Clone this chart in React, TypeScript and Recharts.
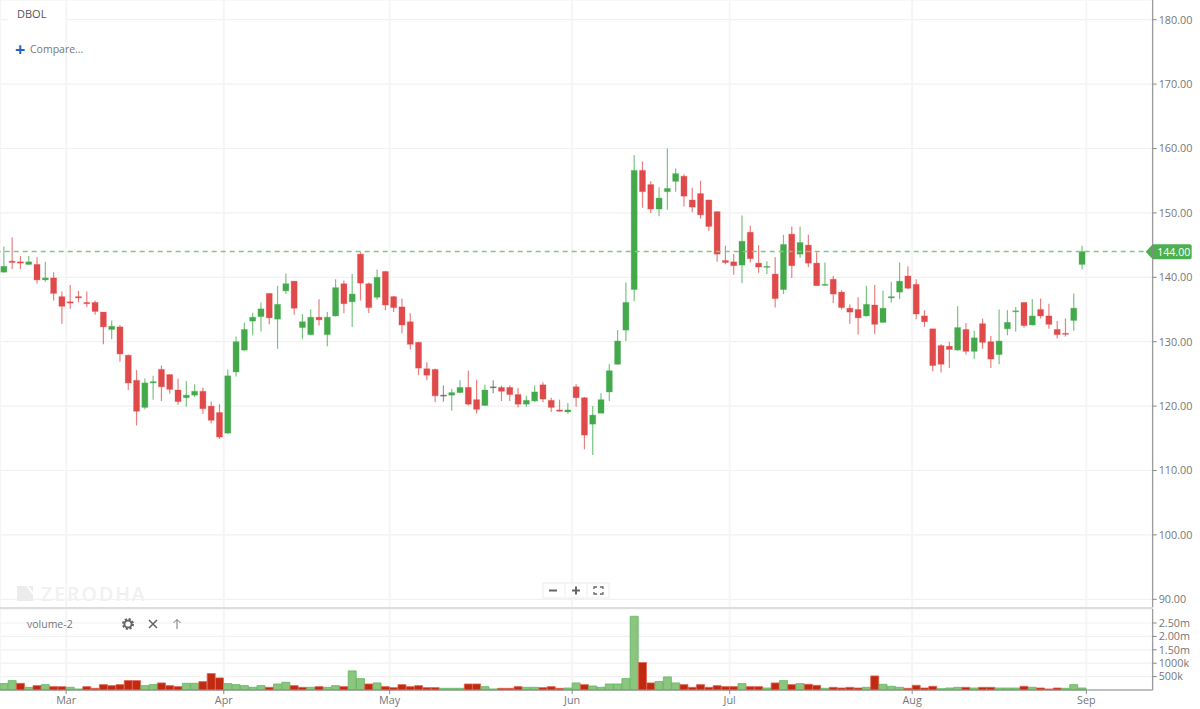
import React from "react";
import { ComposedChart, Bar, Cell, XAxis, YAxis, CartesianGrid, ReferenceLine } from "recharts";

const opens = [
  140.8, 142.5, 142.4, 142.0, 142.0, 139.6, 139.9, 137.0, 136.2, 137.0,
  136.1, 136.1, 134.6, 131.9, 132.3, 127.9, 124.0, 119.8, 123.6, 125.7,
  124.9, 122.5, 121.3, 121.7, 122.3, 120.0, 119.0, 115.8, 125.3, 128.7,
  133.2, 133.9, 137.5, 133.5, 137.9, 139.4, 132.2, 131.1, 133.8, 131.1,
  134.0, 139.0, 136.2, 143.6, 139.0, 136.9, 140.9, 137.0, 135.4, 133.1,
  129.9, 125.8, 125.7, 121.7, 121.7, 122.1, 122.9, 121.0, 120.1, 123.0,
  122.9, 122.9, 121.8, 120.3, 120.8, 123.3, 120.9, 119.4, 119.1, 123.0,
  121.3, 117.2, 118.9, 122.2, 126.5, 131.8, 138.1, 156.6, 154.4, 150.6,
  153.3, 154.9, 155.7, 152.0, 153.0, 152.0, 150.2, 142.6, 142.4, 141.9,
  147.0, 142.2, 141.6, 140.5, 138.1, 146.7, 143.6, 145.0, 142.2, 138.8,
  139.7, 137.7, 135.2, 135.0, 134.0, 135.7, 133.0, 136.8, 137.7, 140.2,
  138.9, 134.0, 132.0, 129.4, 129.3, 128.7, 131.9, 128.5, 132.8, 130.0,
  128.0, 132.0, 134.7, 136.1, 132.6, 135.0, 134.0, 131.9, 131.3, 133.3,
  142.0,
];

const closes = [
  141.7, 142.3, 142.2, 142.4, 139.6, 139.9, 137.5, 135.5, 136.0, 136.8,
  135.9, 134.7, 132.3, 132.4, 128.1, 123.6, 119.2, 123.6, 123.8, 123.0,
  122.6, 120.7, 121.7, 122.3, 119.6, 117.8, 115.2, 124.7, 130.0, 131.9,
  133.8, 135.1, 133.7, 135.8, 139.0, 135.2, 133.1, 133.8, 133.4, 133.8,
  138.4, 135.9, 137.4, 139.1, 135.3, 140.0, 135.7, 135.3, 132.6, 129.6,
  125.9, 124.8, 121.6, 121.7, 122.1, 122.9, 120.3, 119.5, 122.5, 123.0,
  122.3, 121.8, 120.3, 120.9, 122.2, 121.1, 119.8, 119.2, 119.4, 121.3,
  115.5, 118.6, 121.0, 125.5, 130.1, 136.1, 156.6, 153.3, 150.6, 152.3,
  153.8, 156.1, 152.6, 150.9, 149.7, 147.9, 143.6, 142.3, 141.8, 145.6,
  142.9, 141.6, 141.7, 136.7, 145.1, 141.8, 145.4, 142.2, 138.7, 138.9,
  137.4, 135.3, 134.6, 133.7, 135.8, 132.7, 135.2, 137.0, 139.4, 138.3,
  134.3, 133.1, 126.3, 126.5, 128.8, 132.2, 128.5, 130.6, 129.9, 127.3,
  130.1, 133.0, 134.8, 132.5, 134.0, 134.0, 132.7, 131.1, 131.2, 135.2,
  144.0,
];

const highs = [
  144.8, 146.2, 143.3, 143.3, 143.1, 142.4, 140.8, 137.8, 138.8, 137.9,
  137.8, 136.4, 134.6, 133.3, 132.6, 128.0, 125.6, 124.3, 124.7, 126.3,
  124.9, 124.3, 123.9, 123.4, 122.9, 120.7, 120.3, 125.7, 130.8, 133.0,
  134.5, 136.1, 137.5, 138.7, 140.6, 139.4, 134.3, 135.0, 136.6, 134.6,
  139.7, 139.5, 140.5, 143.9, 139.2, 141.2, 141.0, 137.1, 136.7, 134.4,
  130.0, 126.8, 125.8, 123.2, 122.7, 124.0, 125.5, 124.1, 123.3, 124.0,
  123.2, 123.2, 122.8, 121.6, 123.2, 123.7, 121.3, 121.0, 120.5, 123.4,
  121.4, 120.0, 122.0, 126.5, 131.8, 139.2, 159.0, 158.0, 154.9, 154.0,
  160.0, 156.9, 156.0, 153.9, 155.0, 152.1, 150.2, 144.9, 143.6, 149.6,
  148.0, 145.0, 142.5, 143.1, 146.6, 147.9, 147.9, 146.6, 143.9, 142.3,
  140.2, 138.0, 135.8, 136.9, 138.7, 138.8, 137.9, 139.3, 142.3, 141.7,
  139.7, 134.9, 132.0, 129.6, 130.0, 135.5, 132.9, 131.7, 133.6, 130.9,
  135.0, 134.9, 135.4, 136.1, 136.6, 136.7, 135.9, 133.2, 133.6, 137.5,
  144.9,
];

const lows = [
  140.7, 141.3, 141.3, 141.9, 139.0, 139.3, 136.4, 132.8, 135.1, 136.1,
  135.4, 134.2, 129.6, 130.4, 126.9, 122.5, 117.0, 119.5, 121.0, 120.8,
  121.9, 120.2, 119.9, 121.4, 118.8, 117.3, 114.9, 115.7, 124.6, 128.6,
  131.0, 131.6, 132.7, 128.9, 137.4, 134.2, 130.4, 131.0, 132.5, 129.3,
  133.9, 134.4, 132.3, 136.4, 134.4, 136.5, 134.9, 134.6, 131.3, 128.8,
  124.8, 124.0, 120.6, 120.7, 119.3, 122.0, 120.1, 118.8, 120.0, 122.0,
  120.8, 120.8, 119.8, 119.9, 120.6, 120.6, 119.1, 119.2, 118.8, 119.9,
  113.3, 112.4, 118.9, 120.8, 126.4, 130.1, 136.3, 150.8, 150.0, 149.5,
  150.5, 153.3, 151.0, 150.1, 149.1, 147.2, 142.4, 142.0, 140.4, 139.1,
  142.3, 140.7, 140.5, 135.3, 137.4, 139.9, 143.0, 141.6, 138.7, 138.7,
  136.0, 135.0, 132.8, 131.1, 133.9, 131.2, 132.9, 136.1, 136.6, 138.2,
  133.5, 132.3, 125.4, 125.2, 125.9, 128.6, 128.0, 127.3, 128.9, 125.9,
  126.5, 131.0, 131.6, 132.2, 132.5, 133.6, 132.0, 130.5, 130.8, 131.7,
  141.2,
];

// volume in thousands
const volumes = [
  238, 350, 250, 100, 163, 200, 125, 125, 100, 38,
  125, 63, 200, 163, 200, 350, 350, 163, 200, 263,
  163, 125, 250, 250, 313, 613, 450, 238, 200, 163,
  100, 163, 100, 225, 288, 163, 100, 100, 125, 100,
  163, 125, 713, 425, 225, 263, 125, 88, 200, 125,
  163, 88, 88, 63, 63, 63, 225, 225, 125, 38,
  63, 63, 125, 100, 100, 88, 125, 63, 75, 263,
  200, 150, 100, 225, 225, 425, 2750, 1025, 263, 313,
  488, 263, 200, 100, 200, 100, 163, 125, 125, 238,
  125, 125, 75, 263, 350, 200, 238, 213, 175, 63,
  100, 75, 100, 75, 100, 525, 213, 138, 100, 63,
  175, 75, 138, 50, 75, 100, 100, 75, 100, 100,
  75, 75, 75, 138, 100, 75, 38, 75, 63, 200,
  75,
];

const volumeUp = [
  1, 1, 0, 1, 0, 1, 0, 0, 1, 1,
  0, 0, 0, 0, 0, 0, 0, 1, 1, 0,
  0, 0, 1, 1, 0, 0, 0, 1, 1, 1,
  1, 1, 0, 1, 1, 0, 0, 1, 0, 1,
  1, 0, 1, 1, 0, 1, 0, 0, 0, 0,
  0, 0, 0, 1, 1, 1, 0, 0, 1, 1,
  0, 0, 0, 1, 1, 0, 0, 0, 1, 1,
  0, 1, 1, 1, 1, 1, 1, 0, 0, 1,
  1, 1, 0, 0, 0, 0, 0, 0, 0, 1,
  0, 0, 1, 0, 1, 0, 1, 0, 0, 1,
  0, 0, 0, 0, 1, 0, 1, 1, 1, 0,
  0, 0, 0, 1, 1, 1, 0, 1, 0, 0,
  1, 1, 1, 0, 1, 0, 0, 0, 1, 1,
  1,
];

const monthTicks = [7.5, 26.5, 46.5, 68.5, 87.5, 109.5, 130.5];
const monthLabels = ["Mar", "Apr", "May", "Jun", "Jul", "Aug", "Sep"];
const priceTicks = [90, 100, 110, 120, 130, 140, 150, 160, 170, 180];
const volumeTicks = [500, 1000, 1500, 2000, 2500];
const volumeTickLabels = ["500k", "1000k", "1.50m", "2.00m", "2.50m"];
const lastPrice = 144;

const rows = opens.map((open, i) => ({
  i,
  open,
  close: closes[i],
  high: highs[i],
  low: lows[i],
  range: [lows[i], highs[i]],
  volume: volumes[i],
}));

const FONT = "'Open Sans', sans-serif";
const GREEN = "#43a94b";
const RED = "#e04a4a";
const AXIS = "#888888";
const TEXT = "#777777";
const AXIS_WIDTH = 47.3;
const xDomain = [-0.482, 138.5];

// the bar is the high-low range, open and close are placed inside it
function Candle(props: any) {
  const { x, y, width, height, payload } = props;
  const { open, close, high, low } = payload;
  const color = open === close ? "#666666" : close > open ? GREEN : RED;
  const perUnit = height / (high - low);
  const top = y + (high - Math.max(open, close)) * perUnit;
  const bodyHeight = Math.max(Math.abs(open - close) * perUnit, 1);
  const mid = x + width / 2;
  return (
    <g>
      <line x1={mid} x2={mid} y1={y} y2={y + height} stroke={color} strokeOpacity={0.7} strokeWidth={1.2} />
      <rect
        x={x}
        y={top}
        width={width}
        height={bodyHeight}
        fill={color}
        stroke={color}
        strokeOpacity={0.3}
        strokeWidth={1}
      />
    </g>
  );
}

function LastPriceTag(props: any) {
  const { viewBox } = props;
  const right = viewBox.x + viewBox.width;
  const y = viewBox.y + 0.3;
  const path = `M${right - 7} ${y} L${right} ${y - 7.5} H${right + 37} Q${right + 39} ${y - 7.5} ${right + 39} ${y - 5.5} V${y + 5.5} Q${right + 39} ${y + 7.5} ${right + 37} ${y + 7.5} H${right} Z`;
  return (
    <g>
      <path d={path} fill="#4caf50" />
      <text x={right + 4.5} y={y + 4} fill="#ffffff" fontSize={10.6} fontFamily={FONT}>
        {lastPrice.toFixed(2)}
      </text>
    </g>
  );
}

function ZoomControls() {
  return (
    <svg width={72} height={20} style={{ position: "absolute", left: 541, top: 581 }}>
      <rect x={2} y={2} width={66} height={15} fill="#ffffff" stroke="#ececec" />
      <line x1={24} x2={24} y1={3} y2={16} stroke="#eeeeee" />
      <line x1={46} x2={46} y1={3} y2={16} stroke="#eeeeee" />
      <line x1={8} x2={16} y1={9.5} y2={9.5} stroke="#666" strokeWidth={2} />
      <line x1={31} x2={39} y1={9.5} y2={9.5} stroke="#666" strokeWidth={2} />
      <line x1={35} x2={35} y1={5.5} y2={13.5} stroke="#666" strokeWidth={2} />
      <path d="M53 8 V6 H56 M59 6 H62 V8 M62 11 V13 H59 M56 13 H53 V11" fill="none" stroke="#666" strokeWidth={1.3} />
    </svg>
  );
}

function VolumeIcons() {
  return (
    <svg width={70} height={18} style={{ position: "absolute", left: 118, top: 615 }}>
      <circle cx={10} cy={9} r={4.7} fill="none" stroke="#666" strokeWidth={2.6} strokeDasharray="2 1.7" />
      <circle cx={10} cy={9} r={3.6} fill="none" stroke="#666" strokeWidth={2} />
      <path d="M31 5 L39 13 M39 5 L31 13" stroke="#666" strokeWidth={1.6} fill="none" />
      <path d="M59 14 V4.5 M55.5 8 L59 4.5 L62.5 8" stroke="#777" strokeWidth={1} fill="none" />
    </svg>
  );
}

function Watermark() {
  return (
    <div style={{ position: "absolute", left: 17, top: 584 }}>
      <svg width={16} height={18} style={{ position: "absolute", left: 0, top: 2 }}>
        <path d="M0 0 H9 L16 9 V15 H0 Z" fill="#ececec" />
        <path d="M11 0 H16 V6 Z" fill="#ececec" />
      </svg>
      <div
        style={{
          position: "absolute",
          left: 24,
          top: -2,
          fontFamily: FONT,
          fontSize: 19.5,
          fontWeight: 600,
          letterSpacing: 2,
          color: "#f1f1f1",
          lineHeight: "24px",
          whiteSpace: "nowrap",
        }}
      >
        ZERODHA
      </div>
    </div>
  );
}

export default function App() {
  const tickStyle = { fill: TEXT, fontSize: 10.8, fontFamily: FONT };
  return (
    <div style={{ position: "absolute", left: 0, top: 0, width: 1200, height: 709, overflow: "hidden", background: "#fff", fontFamily: FONT }}>
      <div style={{ position: "absolute", left: 0, top: 0 }}>
        <ComposedChart width={1200} height={608} data={rows} margin={{ top: 0, right: 0, bottom: 0, left: 0 }}>
          <CartesianGrid vertical={false} stroke="#f1f1f1" strokeWidth={1.2} />
          <CartesianGrid horizontal={false} stroke="#f5f5f5" strokeWidth={2} />
          <XAxis dataKey="i" type="number" hide domain={xDomain} ticks={monthTicks} />
          <YAxis
            orientation="right"
            width={AXIS_WIDTH}
            domain={[88.65, 183.06]}
            ticks={priceTicks}
            interval={0}
            allowDataOverflow
            stroke={AXIS}
            tickSize={4}
            tick={tickStyle}
            tickFormatter={(v: number) => v.toFixed(2)}
          />
          <ReferenceLine y={lastPrice} stroke="#79cc7b" strokeDasharray="5 4" strokeWidth={1.6} label={LastPriceTag} />
          <Bar dataKey="range" barSize={6} isAnimationActive={false} shape={Candle} />
        </ComposedChart>
      </div>

      <div style={{ position: "absolute", left: 0, top: 609 }}>
        <ComposedChart width={1200} height={100} data={rows} margin={{ top: 0, right: 0, bottom: 0, left: 0 }}>
          <CartesianGrid vertical={false} stroke="#f1f1f1" strokeWidth={1.2} />
          <CartesianGrid horizontal={false} stroke="#f5f5f5" strokeWidth={2} />
          <XAxis
            dataKey="i"
            type="number"
            domain={xDomain}
            ticks={monthTicks}
            interval={0}
            height={19}
            stroke={AXIS}
            tickSize={4}
            tick={tickStyle}
            tickFormatter={(v: number) => monthLabels[monthTicks.indexOf(v)]}
          />
          <YAxis
            orientation="right"
            width={AXIS_WIDTH}
            domain={[0, 3022]}
            ticks={volumeTicks}
            interval={0}
            stroke={AXIS}
            tickSize={4}
            tick={tickStyle}
            tickFormatter={(v: number) => volumeTickLabels[volumeTicks.indexOf(v)]}
          />
          <Bar dataKey="volume" barSize={8} isAnimationActive={false}>
            {rows.map((row) => (
              <Cell
                key={row.i}
                fill={volumeUp[row.i] ? "#8cc67e" : "#bf2a10"}
                stroke={volumeUp[row.i] ? "#5cb85f" : "#e2604f"}
                strokeWidth={0.8}
              />
            ))}
          </Bar>
        </ComposedChart>
      </div>

      <div style={{ position: "absolute", left: 0, top: 607, width: 1153, height: 2, background: "#dddddd" }} />
      <Watermark />
      <ZoomControls />

      <div style={{ position: "absolute", left: 8, top: 5, width: 48, height: 18, background: "#fff", paddingLeft: 9, fontSize: 11, lineHeight: "18px", color: "#555" }}>
        DBOL
      </div>
      <div style={{ position: "absolute", left: 15, top: 39, fontSize: 18, lineHeight: "20px", fontWeight: 700, color: "#1f63c4" }}>+</div>
      <div style={{ position: "absolute", left: 30, top: 40, fontSize: 10.5, lineHeight: "18px", color: "#777" }}>Compare...</div>
      <div style={{ position: "absolute", left: 27, top: 615, fontSize: 10.5, lineHeight: "18px", color: "#777" }}>volume-2</div>
      <VolumeIcons />
    </div>
  );
}
